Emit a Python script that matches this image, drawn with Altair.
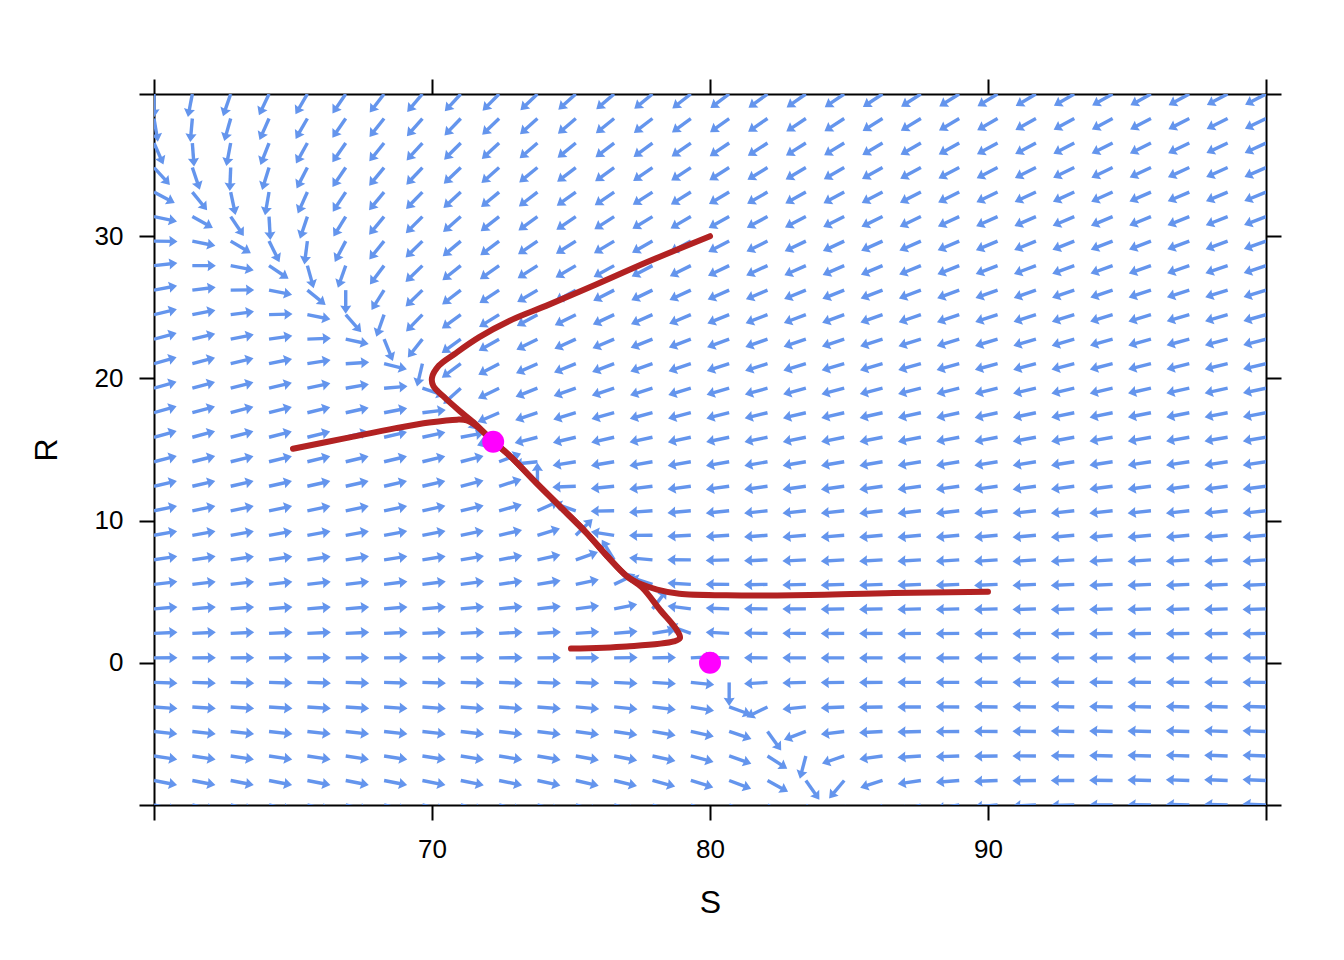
import altair as alt
import numpy as np
import pandas as pd

# ---- axis ranges / ticks ----
S_DOMAIN = [60, 100]
R_DOMAIN = [-10, 40]
S_TICKS = [60, 70, 80, 90, 100]
R_TICKS = [-10, 0, 10, 20, 30, 40]

# ---- flow-field grid (30 x 30 arrows) ----
S_GRID = np.linspace(60, 100, 30)
R_GRID = np.linspace(-10, 40, 30)

K_S = 80.0      # S-nullcline: S + A_SR * R = K_S
A_SR = 0.5
K_R = 98.5      # R-nullcline: R + A_RS * S = K_R
A_RS = 1.15
RATE_RATIO = 2.2

# ---- trajectories ----
traj1_S = [80.0, 77.7, 75.9, 74.1, 72.9, 71.7, 70.8, 70.25, 70.0, 70.05, 70.4, 71.0, 71.5, 72.2]
traj1_R = [30.0, 28.15, 26.6, 25.1, 24.15, 22.9, 21.7, 20.9, 20.05, 19.45, 18.75, 17.7, 16.9, 15.55]

traj2_S = [65.0, 66.9, 68.7, 69.9, 70.9, 71.25, 71.6, 72.2]
traj2_R = [15.05, 15.8, 16.5, 16.9, 17.1, 17.05, 16.65, 15.55]

traj3_S = [90.0, 86.6, 83.0, 80.6, 78.9, 78.1, 77.55, 77.0, 76.3, 75.55, 74.6, 73.75, 72.8, 72.2]
traj3_R = [5.0, 4.9, 4.75, 4.75, 4.85, 5.15, 5.5, 6.1, 7.5, 9.15, 11.0, 12.65, 14.55, 15.55]

traj4_S = [75.0, 77.0, 78.7, 78.92, 78.8, 78.2, 77.55, 77.0, 76.3, 75.55, 74.6, 73.75, 72.8, 72.2]
traj4_R = [1.0, 1.15, 1.5, 1.74, 2.32, 3.73, 5.3, 6.1, 7.5, 9.15, 11.0, 12.65, 14.55, 15.55]

# ---- equilibria ----
eq_S = [72.2, 80.0]
eq_R = [15.55, 0.0]

# ---- layout / style ----
W, H = 1112, 711
ARROW_LEN = 23.5
BLUE = "#6495ED"
RED = "#B22222"
MAGENTA = "#FF00FF"
FONT = "Liberation Sans"
HEAD = "M0,0L0.68,1L0,0.9L-0.68,1Z"

px_s = W / (S_DOMAIN[1] - S_DOMAIN[0])
px_r = H / (R_DOMAIN[1] - R_DOMAIN[0])

rows = []
for s in S_GRID:
    for r in R_GRID:
        ds = s * (1 - (s + A_SR * r) / K_S)
        dr = RATE_RATIO * r * (1 - (r + A_RS * s) / K_R)
        vx, vy = ds * px_s, dr * px_r
        n = np.hypot(vx, vy)
        if n == 0:
            continue
        ux, uy = vx / n, vy / n
        ang = (90 - np.degrees(np.arctan2(uy, ux))) % 360
        rows.append({
            "S": s, "R": r,
            "S_end": s + (ARROW_LEN - 4) * ux / px_s,
            "R_end": r + (ARROW_LEN - 4) * uy / px_r,
            "S_tip": s + ARROW_LEN * ux / px_s,
            "R_tip": r + ARROW_LEN * uy / px_r,
            "angle": ang,
        })
field = pd.DataFrame(rows)

traj_rows = []
for name, ss, rr in [("a", traj1_S, traj1_R), ("b", traj2_S, traj2_R),
                     ("c", traj3_S, traj3_R), ("d", traj4_S, traj4_R)]:
    for i, (s, r) in enumerate(zip(ss, rr)):
        traj_rows.append({"traj": name, "idx": i, "S": s, "R": r})
traj = pd.DataFrame(traj_rows)
eq = pd.DataFrame({"S": eq_S, "R": eq_R})

xs = alt.Scale(domain=S_DOMAIN, nice=False, zero=False)
ys = alt.Scale(domain=R_DOMAIN, nice=False, zero=False)

common = dict(tickSize=15, tickWidth=2, tickColor="black", domainColor="black",
              domainWidth=2, grid=False, labelFont=FONT, labelFontSize=26,
              labelColor="black", titleFont=FONT, titleFontSize=32,
              titleFontWeight="normal", titleColor="black")

x_bottom = alt.Axis(orient="bottom", values=S_TICKS, labelPadding=16,
                    labelExpr="(datum.value == 60 || datum.value == 100) ? '' : datum.label",
                    title="S", titleX=W / 2, titleY=107, titleAlign="center",
                    titleBaseline="alphabetic", **common)
y_left = alt.Axis(orient="left", values=R_TICKS, labelPadding=16,
                  labelExpr="(datum.value == -10 || datum.value == 40) ? '' : datum.label",
                  title="R", titleX=-98, titleY=H / 2, titleAlign="center",
                  titleBaseline="alphabetic", titleAngle=270, **common)
x_top = alt.Axis(orient="top", values=S_TICKS, labels=False, title="", **common)
y_right = alt.Axis(orient="right", values=R_TICKS, labels=False, title="", **common)

shafts = alt.Chart(field).mark_rule(color=BLUE, strokeWidth=3.4, clip=True).encode(
    x=alt.X("S:Q", scale=xs, axis=x_bottom),
    y=alt.Y("R:Q", scale=ys, axis=y_left),
    x2="S_end:Q", y2="R_end:Q",
)
heads = alt.Chart(field).mark_point(shape=HEAD, filled=True, color=BLUE, size=270,
                                    opacity=1, strokeWidth=0, clip=True).encode(
    x=alt.X("S_tip:Q", scale=xs, axis=x_top),
    y=alt.Y("R_tip:Q", scale=ys, axis=y_right),
    angle=alt.Angle("angle:Q", scale=None),
)
lines = alt.Chart(traj).mark_line(color=RED, strokeWidth=6, clip=True,
                                  interpolate="catmull-rom",
                                  strokeJoin="round", strokeCap="round").encode(
    x=alt.X("S:Q", scale=xs, axis=None),
    y=alt.Y("R:Q", scale=ys, axis=None),
    detail="traj:N", order="idx:Q",
)
points = alt.Chart(eq).mark_circle(color=MAGENTA, size=484, opacity=1).encode(
    x=alt.X("S:Q", scale=xs, axis=None),
    y=alt.Y("R:Q", scale=ys, axis=None),
)

chart = alt.layer(shafts, heads, lines, points).resolve_axis(
    x="independent", y="independent"
).properties(
    width=W, height=H,
    autosize=alt.AutoSizeParams(type="none"),
    padding={"left": 146, "top": 86, "right": 62, "bottom": 140},
    background="white",
).configure_view(strokeWidth=0)

chart.save("out.html", embed_options={"renderer": "svg", "actions": False})
